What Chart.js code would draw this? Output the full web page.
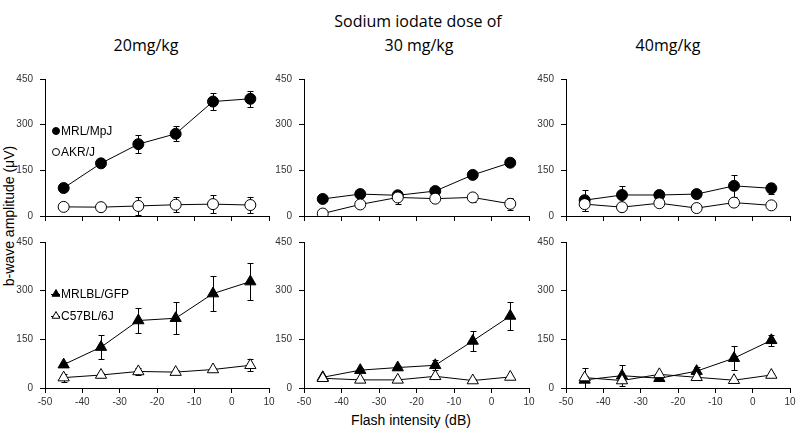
<!DOCTYPE html>
<html>
<head>
<meta charset="utf-8">
<script src="https://cdn.jsdelivr.net/npm/chart.js@4.4.1/dist/chart.umd.min.js"></script>
<style>
  body { margin: 0; background: #fff; }
  #wrap { position: relative; width: 800px; height: 436px; overflow: hidden; font-family: "Liberation Sans", Arial, sans-serif; }
  canvas { position: absolute; }
  .ttl { position: absolute; font-family: "Open Sans", sans-serif; font-size: 16px; line-height: 16px; color: #000; white-space: nowrap; transform: translateX(-50%); }
  #xtitle { position: absolute; left: 411px; top: 413px; font-size: 14px; line-height: 14px; transform: translateX(-50%); white-space: nowrap; }
  #ytitle { position: absolute; left: 9px; top: 216px; font-size: 14px; line-height: 14px; white-space: nowrap; transform: translate(-50%, -50%) rotate(-90deg); }
</style>
</head>
<body>
<div id="wrap">
  <div class="ttl" style="left:418px; top:13px;">Sodium iodate dose of</div>
  <div class="ttl" style="left:146px; top:37px;">20mg/kg</div>
  <div class="ttl" style="left:419px; top:37px;">30 mg/kg</div>
  <div class="ttl" style="left:668px; top:37px;">40mg/kg</div>
  <div id="ytitle">b-wave amplitude (μV)</div>
  <div id="xtitle">Flash intensity (dB)</div>

  <canvas id="p20a" width="279" height="163" style="left:0px; top:66px;"></canvas>
  <canvas id="p30a" width="280" height="163" style="left:259px; top:66px;"></canvas>
  <canvas id="p40a" width="279" height="163" style="left:521px; top:66px;"></canvas>
  <canvas id="p20b" width="279" height="184" style="left:0px; top:229px;"></canvas>
  <canvas id="p30b" width="280" height="184" style="left:259px; top:229px;"></canvas>
  <canvas id="p40b" width="279" height="184" style="left:521px; top:229px;"></canvas>
</div>

<script>
// flash intensities (dB)
const xVals = [-45, -35, -25, -15, -5, 5];
const xTicks = [-50, -40, -30, -20, -10, 0, 10];
const yTicks = [0, 150, 300, 450];

// 20 mg/kg
const mrl20 = [92, 173, 236, 270, 376, 385];
const mrl20Err = [6, 10, 30, 25, 29, 27];
const akr20 = [30, 29, 33, 37, 39, 36];
const akr20Err = [5, 5, 29, 25, 30, 26];
const mrlbl20 = [72, 126, 208, 215, 291, 328];
const mrlbl20Err = [8, 36, 40, 50, 54, 58];
const c57_20 = [32, 40, 51, 49, 57, 70];
const c57_20Err = [12, 6, 10, 6, 6, 18];

// 30 mg/kg
const mrl30 = [56, 72, 68, 82, 135, 175];
const mrl30Err = [4, 5, 8, 8, 8, 12];
const akr30 = [8, 38, 61, 57, 61, 40];
const akr30Err = [3, 6, 20, 6, 16, 19];
const mrlbl30 = [33, 55, 63, 70, 145, 222];
const mrlbl30Err = [4, 6, 6, 15, 32, 43];
const c57_30 = [30, 25, 25, 36, 23, 34];
const c57_30Err = [4, 4, 4, 5, 4, 4];

// 40 mg/kg
const mrl40 = [52, 69, 69, 72, 99, 91];
const mrl40Err = [35, 28, 6, 6, 36, 18];
const akr40 = [39, 29, 42, 26, 44, 35];
const akr40Err = [22, 5, 5, 5, 5, 5];
const mrlbl40 = [25, 38, 30, 52, 92, 147];
const mrlbl40Err = [38, 32, 5, 13, 37, 17];
const c57_40 = [32, 23, 42, 33, 24, 40];
const c57_40Err = [5, 5, 5, 5, 5, 5];

const tickFont = { family: '"Liberation Sans", Arial, sans-serif', size: 10 };

// vertical error bars, drawn under the markers
const errorBars = {
    id: 'errorBars',
    beforeDatasetsDraw(chart) {
        const ctx = chart.ctx;
        const xs = chart.scales.x, ys = chart.scales.y;
        chart.data.datasets.forEach(ds => {
            if (!ds.errors) return;
            ctx.save();
            ctx.strokeStyle = '#000';
            ctx.lineWidth = 1;
            ds.data.forEach((p, i) => {
                const e = ds.errors[i];
                const px = Math.round(xs.getPixelForValue(p.x)) + 0.5;
                const top = Math.round(ys.getPixelForValue(p.y + e)) + 0.5;
                const lo = p.y - e;
                const bot = Math.round(ys.getPixelForValue(Math.max(0, lo))) + 0.5;
                ctx.beginPath();
                ctx.moveTo(px, top); ctx.lineTo(px, bot);
                ctx.moveTo(px - 3, top); ctx.lineTo(px + 3, top);
                if (lo >= 0) { ctx.moveTo(px - 3, bot); ctx.lineTo(px + 3, bot); }
                ctx.stroke();
            });
            ctx.restore();
        });
    }
};

// small legend inside the left panels
const inlineLegend = {
    id: 'inlineLegend',
    afterDraw(chart, args, opts) {
        if (!opts.items) return;
        const ctx = chart.ctx;
        const a = chart.chartArea;
        ctx.save();
        opts.items.forEach(it => {
            const mx = a.left + 11, my = a.top + it.dy;
            if (it.dash) {
                ctx.strokeStyle = '#000'; ctx.lineWidth = 1;
                ctx.beginPath(); ctx.moveTo(mx - 5, my + 0.5); ctx.lineTo(mx + 4, my + 0.5); ctx.stroke();
            }
            ctx.fillStyle = it.fill; ctx.strokeStyle = '#000';
            Chart.helpers.drawPoint(ctx, { pointStyle: it.style, rotation: 0, radius: it.r, borderWidth: 1 }, mx, my);
            ctx.fillStyle = '#000';
            ctx.font = '12px "Liberation Sans", Arial, sans-serif';
            ctx.textBaseline = 'middle';
            ctx.fillText(it.label, mx + 5, my + 1);
        });
        ctx.restore();
    }
};

function series(label, vals, errs, style, fill) {
    return {
        label: label,
        data: xVals.map((x, i) => ({ x: x, y: vals[i] })),
        errors: errs,
        showLine: true,
        borderColor: '#000',
        borderWidth: 1,
        tension: 0,
        pointStyle: style,
        pointRadius: style === 'triangle' ? 6.5 : 5.5,
        pointBackgroundColor: fill,
        pointBorderColor: '#000',
        pointBorderWidth: 1
    };
}

function makePanel(id, sets, bottomRow, legendItems) {
    new Chart(document.getElementById(id), {
        type: 'scatter',
        data: { datasets: sets },
        options: {
            responsive: false,
            animation: false,
            events: [],
            layout: { padding: { top: 8, right: 10, left: 0, bottom: 0 } },
            plugins: {
                legend: { display: false },
                tooltip: { enabled: false },
                inlineLegend: { items: legendItems }
            },
            scales: {
                x: {
                    type: 'linear', min: -50, max: 10,
                    afterBuildTicks: s => { s.ticks = xTicks.map(v => ({ value: v })); },
                    afterFit: s => { s.height = bottomRow ? 25 : 6; },
                    grid: { drawOnChartArea: false, drawTicks: true, tickLength: 5, color: '#000' },
                    border: { color: '#000', width: 1 },
                    ticks: { display: bottomRow, color: '#333', font: tickFont, padding: 3, maxRotation: 0 }
                },
                y: {
                    min: 0, max: 450,
                    afterBuildTicks: s => { s.ticks = yTicks.map(v => ({ value: v })); },
                    afterFit: s => { s.width = 45; },
                    grid: { drawOnChartArea: false, drawTicks: true, tickLength: 5, color: '#000' },
                    border: { color: '#000', width: 1 },
                    ticks: { color: '#333', font: tickFont, padding: 7 }
                }
            }
        },
        plugins: [errorBars, inlineLegend]
    });
}

// open markers first so they are drawn on top
makePanel('p20a', [
    series('AKR/J', akr20, akr20Err, 'circle', '#fff'),
    series('MRL/MpJ', mrl20, mrl20Err, 'circle', '#000')
], false, [
    { label: 'MRL/MpJ', style: 'circle', fill: '#000', r: 3.5, dy: 52 },
    { label: 'AKR/J', style: 'circle', fill: '#fff', r: 3.5, dy: 73 }
]);
makePanel('p30a', [
    series('AKR/J', akr30, akr30Err, 'circle', '#fff'),
    series('MRL/MpJ', mrl30, mrl30Err, 'circle', '#000')
], false, null);
makePanel('p40a', [
    series('AKR/J', akr40, akr40Err, 'circle', '#fff'),
    series('MRL/MpJ', mrl40, mrl40Err, 'circle', '#000')
], false, null);

makePanel('p20b', [
    series('C57BL/6J', c57_20, c57_20Err, 'triangle', '#fff'),
    series('MRLBL/GFP', mrlbl20, mrlbl20Err, 'triangle', '#000')
], true, [
    { label: 'MRLBL/GFP', style: 'triangle', fill: '#000', r: 4.5, dy: 52, dash: true },
    { label: 'C57BL/6J', style: 'triangle', fill: '#fff', r: 4.5, dy: 74, dash: true }
]);
makePanel('p30b', [
    series('C57BL/6J', c57_30, c57_30Err, 'triangle', '#fff'),
    series('MRLBL/GFP', mrlbl30, mrlbl30Err, 'triangle', '#000')
], true, null);
makePanel('p40b', [
    series('C57BL/6J', c57_40, c57_40Err, 'triangle', '#fff'),
    series('MRLBL/GFP', mrlbl40, mrlbl40Err, 'triangle', '#000')
], true, null);
</script>
</body>
</html>
